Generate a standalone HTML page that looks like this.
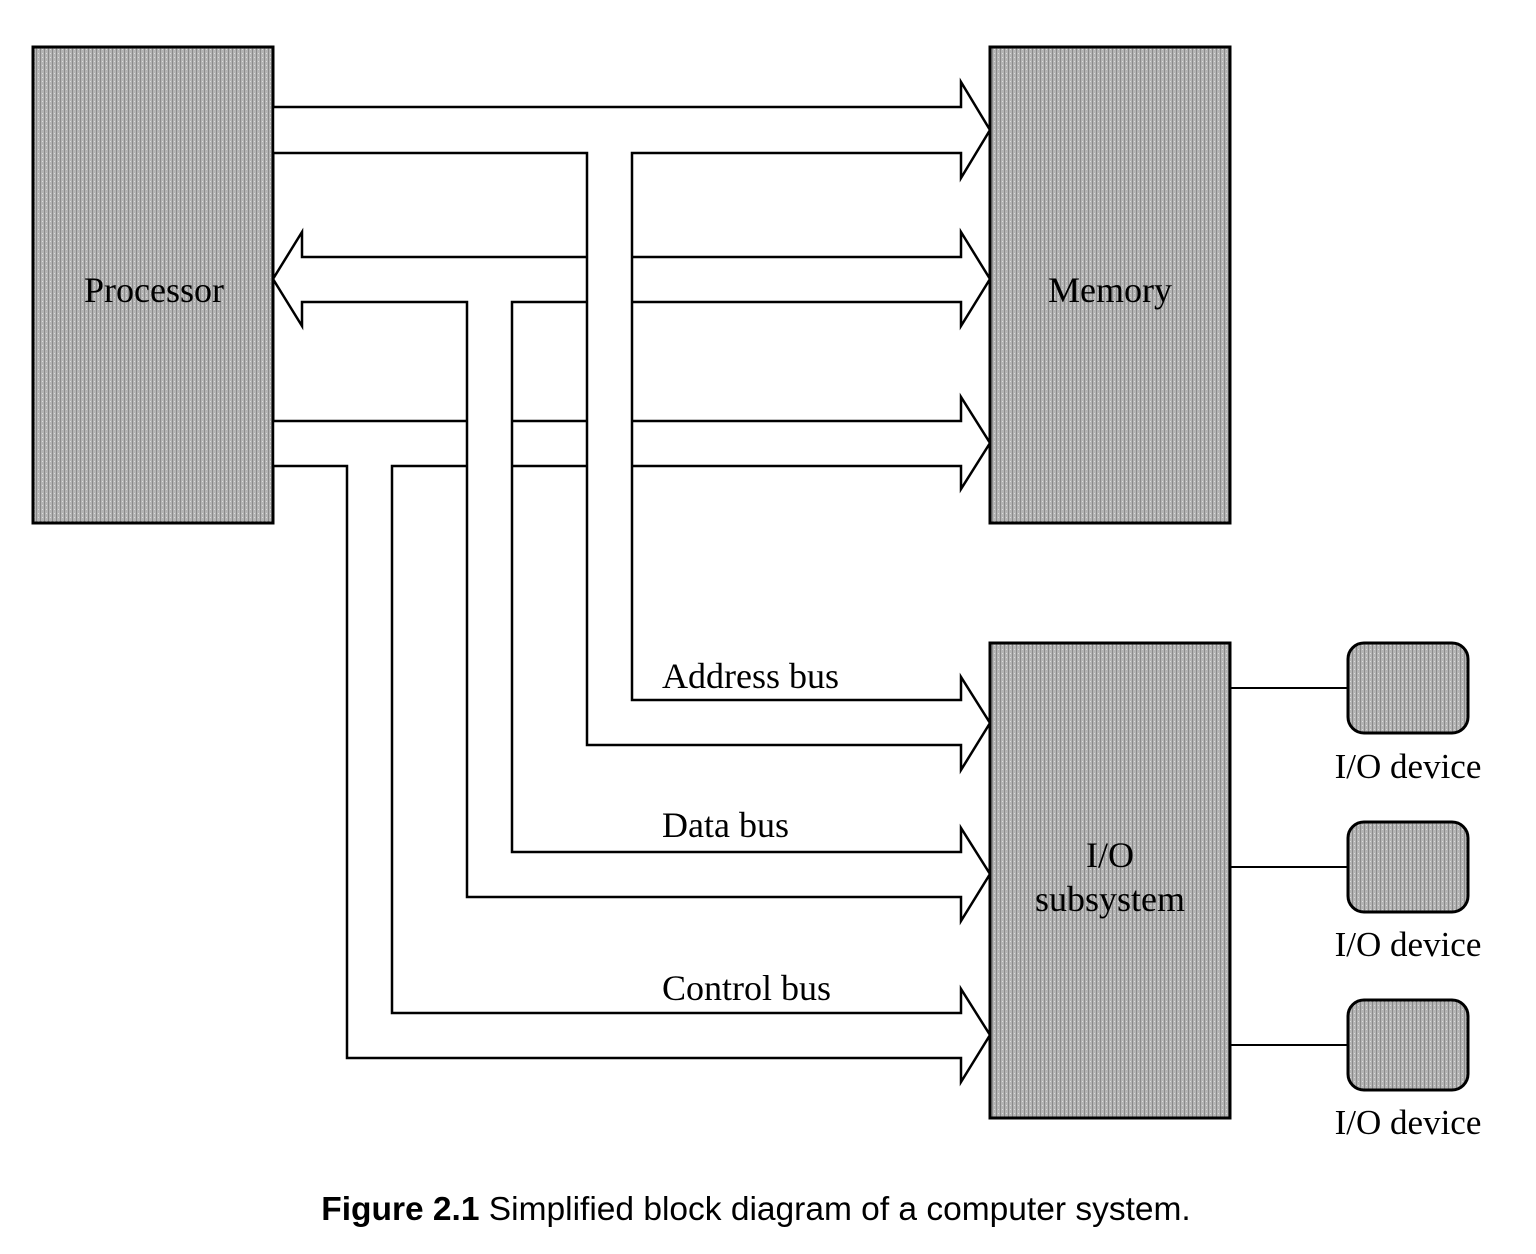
<!DOCTYPE html>
<html><head><meta charset="utf-8"><style>
html,body{margin:0;padding:0;background:#fff;}
svg{display:block;}
</style></head><body>
<svg width="1536" height="1254" viewBox="0 0 1536 1254" xmlns="http://www.w3.org/2000/svg">
<defs>
<pattern id="st" width="4" height="4" patternUnits="userSpaceOnUse">
<rect width="4" height="4" fill="#b4b4b4"/>
<rect x="0" y="0" width="1" height="4" fill="#8a8a8a"/>
<rect x="2" y="1" width="1" height="1" fill="#dcdcdc"/>
</pattern>
</defs>
<g stroke="#000" stroke-width="3" fill="url(#st)">
<rect x="33" y="47" width="240" height="476"/>
<rect x="990" y="47" width="240" height="476"/>
<rect x="990" y="643" width="240" height="475"/>
<rect x="1348" y="643" width="120" height="90" rx="16"/>
<rect x="1348" y="822" width="120" height="90" rx="16"/>
<rect x="1348" y="1000" width="120" height="90" rx="16"/>
</g>
<g stroke="#000" stroke-width="2">
<line x1="1230" y1="688" x2="1348" y2="688"/>
<line x1="1230" y1="867" x2="1348" y2="867"/>
<line x1="1230" y1="1045" x2="1348" y2="1045"/>
</g>
<g stroke="#000" stroke-width="2.5" fill="#fff" stroke-linejoin="miter">
<polygon points="273,421 961,421 961,397 990,443 961,489 961,466 392,466 392,1013 961,1013 961,989 990,1035 961,1082 961,1058 347,1058 347,466 273,466"/>
<polygon points="302,257 961,257 961,232 990,279 961,326 961,302 512,302 512,852 961,852 961,828 990,874 961,921 961,897 467,897 467,302 302,302 302,326 273,279 302,232"/>
<polygon points="273,107 961,107 961,82 990,130 961,178 961,153 632,153 632,700 961,700 961,677 990,723 961,770 961,745 587,745 587,153 273,153"/>
</g>
<g font-family="Liberation Serif, serif" font-size="36" fill="#000">
<text x="154" y="302" text-anchor="middle">Processor</text>
<text x="1110" y="302" text-anchor="middle">Memory</text>
<text x="1110" y="867" text-anchor="middle">I/O</text>
<text x="1110" y="911" text-anchor="middle">subsystem</text>
<text x="662" y="688">Address bus</text>
<text x="662" y="837">Data bus</text>
<text x="662" y="1000">Control bus</text>
<text x="1408" y="778" text-anchor="middle" font-size="35">I/O device</text>
<text x="1408" y="956" text-anchor="middle" font-size="35">I/O device</text>
<text x="1408" y="1134" text-anchor="middle" font-size="35">I/O device</text>
</g>
<text x="756" y="1220" text-anchor="middle" font-family="Liberation Sans, sans-serif" font-size="33.5"><tspan font-weight="bold">Figure 2.1</tspan> Simplified block diagram of a computer system.</text>
</svg>
</body></html>
